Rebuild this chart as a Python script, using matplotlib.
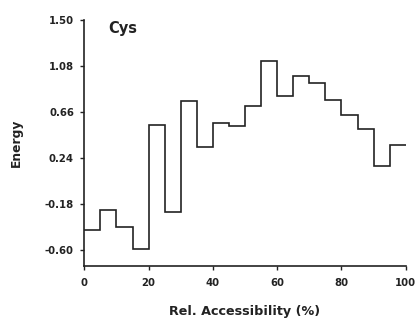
import matplotlib
matplotlib.use("Agg")
import matplotlib.pyplot as plt

INK = "#222222"

# bin edges of relative accessibility (%) and energy per bin
EDGES = [0, 5, 10, 15, 20, 25, 30, 35, 40, 45, 50,
         55, 60, 65, 70, 75, 80, 85, 90, 95, 100]
ENERGY = [-0.41, -0.23, -0.39, -0.585, 0.54, -0.25, 0.765, 0.34, 0.565, 0.53,
          0.715, 1.125, 0.81, 0.99, 0.925, 0.77, 0.635, 0.51, 0.165, 0.365]
YTICKS = [-0.60, -0.18, 0.24, 0.66, 1.08, 1.50]
XTICKS = [0, 20, 40, 60, 80, 100]

plt.rcParams["font.family"] = ["DejaVu Sans"]

fig = plt.figure(figsize=(4.18, 3.22), dpi=100)
fig.patch.set_facecolor("white")
ax = fig.add_axes([0.2017, 0.1748, 0.7689, 0.7631])

ax.stairs(ENERGY, EDGES, baseline=None, color=INK, lw=1.2)

ax.set_xlim(0, 100)
ax.set_ylim(-0.74, 1.50)
ax.set_xticks(XTICKS)
ax.set_yticks(YTICKS)
ax.set_yticklabels([f"{v:.2f}" for v in YTICKS])
for s in ("top", "right"):
    ax.spines[s].set_visible(False)
for s in ("left", "bottom"):
    ax.spines[s].set_color(INK)
    ax.spines[s].set_linewidth(1.2)
ax.tick_params(direction="out", length=3, width=1, colors=INK, labelsize=7.3)
ax.tick_params(axis="y", pad=4.5)
ax.tick_params(axis="x", pad=6)
for lab in ax.get_xticklabels() + ax.get_yticklabels():
    lab.set_fontweight("bold")

ax.set_xlabel("Rel. Accessibility (%)", fontsize=9.2, weight="bold", color=INK, labelpad=12)
ax.set_ylabel("Energy", fontsize=8.8, weight="bold", color=INK, labelpad=16)
ax.text(7.6, 1.42, "Cys", fontsize=10.5, weight="bold", color=INK, va="center", ha="left")

fig.savefig("out.png", dpi=100, facecolor="white")
